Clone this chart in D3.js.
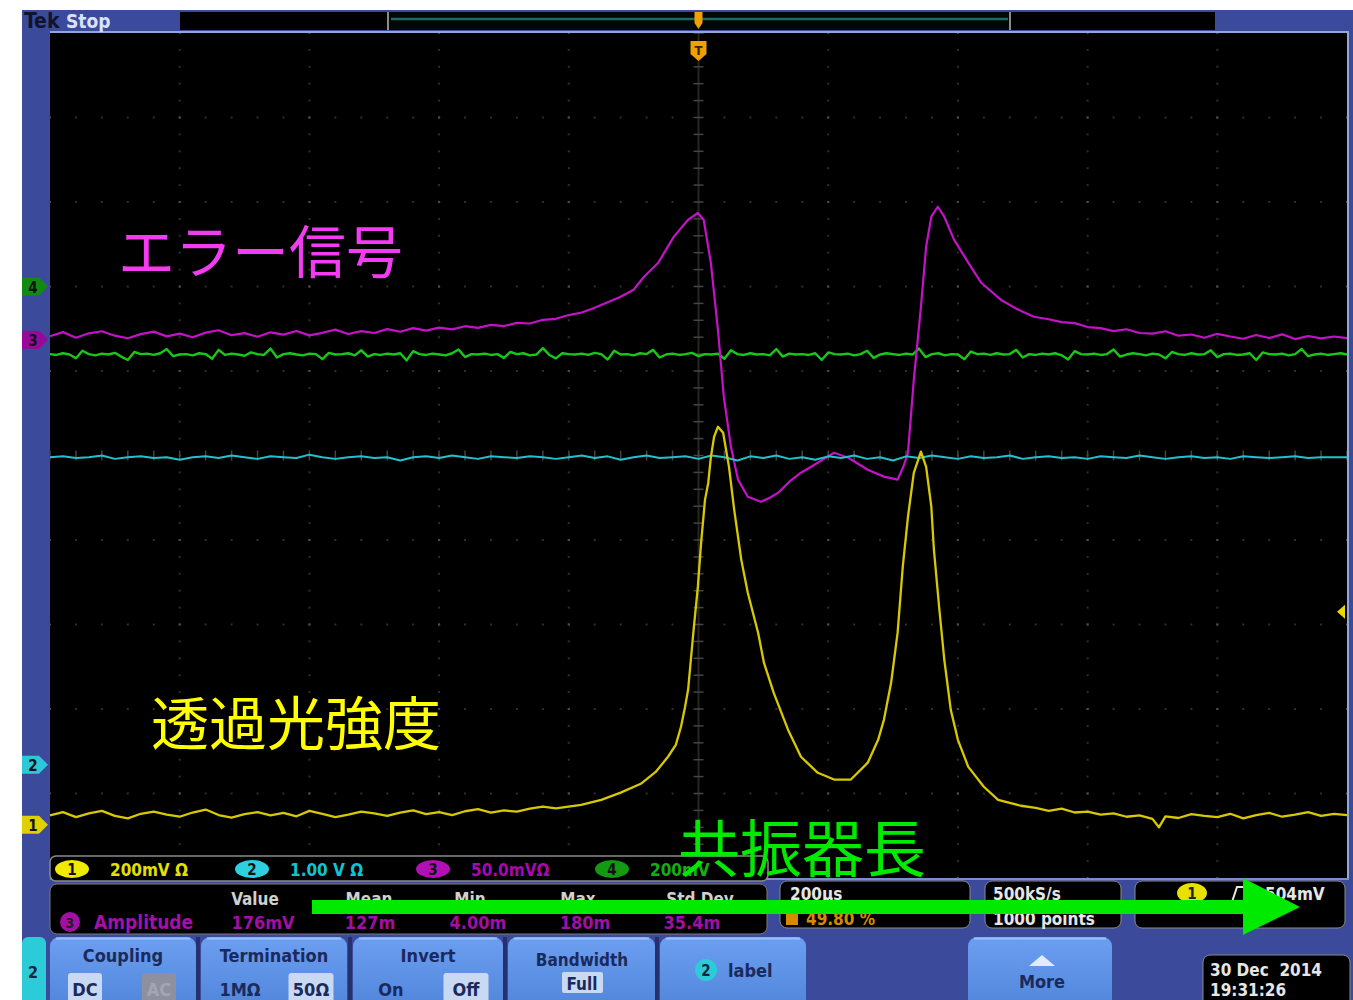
<!DOCTYPE html>
<html>
<head>
<meta charset="utf-8">
<script src="https://cdn.jsdelivr.net/npm/d3@7"></script>
<style>
  body { margin: 0; background: #fff; }
  svg { display: block; }
  .ui { font-family: "DejaVu Sans Condensed", "DejaVu Sans", sans-serif; font-weight: bold; }
  .jp { font-family: "Noto Sans CJK JP", sans-serif; }
</style>
</head>
<body>
<div id="chart"></div>
<script>
// ---- channel settings ----
const channelNames   = ['1', '2', '3', '4'];
const channelScaleMv = [200, 1000, 50, 200];      // mV per division
const channelPosDiv  = [-4.37, -3.66, 1.37, 2.0]; // ground marker, divisions from centre
const channelLabels  = ['200mV \u03a9', '1.00 V \u03a9', '50.0mV\u03a9', '200mV'];
const traceColors    = ['#d8c800', '#22c2cc', '#c412c8', '#18c818'];
const markerColors   = ['#e0d000', '#2cc8d8', '#98089a', '#128a12'];
const chipColors     = ['#f0ea00', '#2cd0e0', '#b010b4', '#129a12'];
const labelColors    = ['#e4e000', '#10c4d4', '#a808ac', '#12b012'];

const timeDomainUs = [-1000, 1000];  // 200 us/div, 10 div
const triggerLevelMv = 504;

// ---- ch1 : transmitted light (time us, mV) ----
const ch1Time = [
  -1000, -980, -960, -940, -920, -900, -880, -860, -840, -820,
  -800, -780, -760, -740, -720, -700, -680, -660, -640, -620,
  -600, -580, -560, -540, -520, -500, -480, -460, -440, -420,
  -400, -380, -360, -340, -320, -300, -280, -260, -240, -220,
  -181, -150, -120, -89, -66, -47, -35, -27, -21, -16, -8, -1, 4, 10, 15, 19, 24, 30, 38, 47,
  55, 66, 76, 92, 101, 116, 138, 158, 184, 209, 235, 261, 277, 286, 297, 307, 315, 323, 332, 343,
  351, 359, 363, 371, 379, 389, 400, 416, 440, 462, 497,
  520, 540, 560, 580, 600, 620, 640, 660, 680, 700, 710, 720, 740, 760, 780, 800, 820, 840, 860,
  880, 900, 920, 940, 960, 980, 1000
];
const ch1Mv = [
  22, 30, 18, 27, 33, 21, 15, 26, 31, 24,
  19, 29, 36, 23, 17, 25, 30, 22, 28, 20,
  33, 26, 18, 24, 31, 27, 21, 29, 34, 25,
  30, 23, 32, 37, 29, 34, 31, 38, 43, 39,
  47, 59, 76, 97, 125, 161, 189, 232, 277, 320, 454, 563, 667, 769, 809, 869, 918, 942, 928, 847,
  746, 627, 549, 454, 383, 312, 225, 161, 123, 107, 107, 147, 201, 249, 336, 454, 611, 729, 833, 883,
  847, 753, 651, 516, 391, 272, 201, 137, 90, 59, 45,
  40, 33, 38, 29, 31, 24, 27, 19, 22, 14, -6, 20, 16, 25, 21, 18, 26, 15, 23,
  28, 19, 24, 30, 21, 26, 23
];

// ---- ch3 : error signal (time us, mV) ----
const ch3Time = [
  -1000, -980, -960, -940, -920, -900, -880, -860, -840, -820,
  -800, -780, -760, -740, -720, -700, -680, -660, -640, -620,
  -600, -580, -560, -540, -520, -500, -480, -460, -440, -420,
  -400, -380, -360, -340, -320, -300, -280, -260, -240, -220,
  -200, -180, -160,
  -120, -100, -84, -62, -38, -16, -1, 8, 19, 30, 39, 50, 61, 76, 96, 110, 123, 140, 158, 184,
  209, 231, 261, 286, 307, 316, 323, 332, 343, 351, 359, 369, 379, 394, 416, 436, 466, 490, 517,
  540, 560, 580, 600, 620, 640, 660, 680, 700, 720, 740, 760, 780, 800, 820, 840, 860, 880,
  900, 920, 940, 960, 980, 1000
];
const ch3Mv = [
  2.1, 4.5, 1.2, 3.8, 5.0, 2.4, 0.9, 3.3, 4.8, 2.0,
  3.6, 1.5, 4.2, 5.6, 2.7, 3.9, 1.8, 4.4, 3.0, 5.2,
  2.6, 4.1, 6.0, 3.4, 5.1, 4.0, 6.3, 4.7, 6.9, 5.4,
  7.2, 6.1, 8.0, 7.0, 8.8, 8.1, 10.0, 9.6, 11.8, 12.4,
  14.6, 16.1, 18.9,
  25.4, 29.6, 37.3, 45.6, 61, 71, 75, 71, 45.6, 5.9, -33.7, -63.3, -82.8, -92.9, -95.9, -93.5, -90.5, -84, -78.7, -72.8,
  -66.9, -69.8, -76.9, -81, -82.8, -75, -66.9, -23.7, 19.5, 55, 72.8, 78.7, 72.8, 59.2, 45.6, 33.7, 23.7, 18.4, 13.6,
  12.1, 10.4, 9.8, 7.5, 6.9, 5.1, 6.2, 4.0, 3.6, 5.0, 2.4, 3.1, 1.2, 3.5, 1.9, 0.6, 2.8, 1.0,
  3.2, 0.4, 2.2, 0.8, 1.9, 0.9
];

// ---- ch4 : green, sampled every 10 us from -1000 us (mV) ----
const ch4StartUs = -1000, ch4StepUs = 10;
const ch4Mv = [
  -160,-162,-158,-161,-170,-152,-160,-163,-159,-161,
  -157,-166,-174,-155,-160,-159,-162,-158,-148,-165,
  -161,-160,-163,-158,-160,-171,-150,-162,-159,-161,
  -164,-156,-160,-162,-147,-168,-160,-158,-161,-163,
  -159,-160,-172,-157,-161,-160,-158,-163,-151,-166,
  -160,-162,-159,-161,-158,-175,-153,-160,-162,-159,
  -161,-163,-158,-149,-167,-160,-161,-159,-162,-160,
  -169,-155,-160,-158,-163,-161,-146,-162,-170,-158,
  -160,-161,-159,-162,-157,-160,-173,-152,-161,-160,
  -163,-158,-160,-150,-168,-161,-159,-162,-160,-157,
  -165,-160,-161,-159,-171,-151,-160,-162,-158,-161,
  -160,-163,-148,-166,-159,-161,-160,-162,-158,-174,
  -156,-160,-161,-159,-163,-160,-152,-169,-161,-158,
  -160,-162,-159,-161,-147,-167,-160,-158,-163,-160,
  -161,-172,-154,-160,-159,-162,-158,-161,-160,-150,
  -168,-160,-162,-159,-161,-158,-163,-173,-153,-160,
  -161,-159,-162,-160,-149,-166,-161,-158,-160,-163,
  -159,-161,-170,-155,-160,-162,-158,-161,-160,-151,
  -167,-160,-159,-162,-161,-158,-174,-156,-160,-161,
  -159,-163,-160,-148,-165,-161,-159,-162,-160,-158,
  -161
];

// ---- ch2 : cyan, sampled every 20 us from -1000 us (mV) ----
const ch2StartUs = -1000, ch2StepUs = 20;
const ch2Mv = [
  3640,3650,3630,3640,3660,3620,3640,3650,3630,3640,
  3610,3640,3650,3630,3660,3640,3620,3650,3640,3630,
  3670,3640,3620,3640,3650,3630,3640,3600,3640,3650,
  3630,3660,3640,3620,3650,3640,3630,3650,3640,3620,
  3640,3660,3630,3650,3610,3640,3660,3630,3640,3650,
  3620,3660,3640,3600,3650,3630,3660,3620,3640,3610,
  3650,3630,3660,3620,3640,3600,3650,3630,3660,3640,
  3620,3650,3630,3640,3660,3620,3640,3650,3630,3640,
  3620,3650,3640,3630,3660,3640,3620,3640,3650,3630,
  3640,3620,3650,3640,3630,3640,3650,3630,3640,3640,
  3640
];

// ---- screen texts ----
const measHeaders = ['Value', 'Mean', 'Min', 'Max', 'Std Dev'];
const measValues  = ['176mV', '127m', '4.00m', '180m', '35.4m'];
const annotations = [
  {text: '\u30a8\u30e9\u30fc\u4fe1\u53f7', color: '#f23cf2'},
  {text: '\u900f\u904e\u5149\u5f37\u5ea6', color: '#ffff00'},
  {text: '\u5171\u632f\u5668\u9577', color: '#00ea00'}
];

// ================= drawing =================
const W = 1353, H = 1000;
const plot = {left: 50, right: 1347, top: 33, bottom: 878};
const frameBlue = '#3b4a9b', borderBlue = '#8ea8d8';

const svg = d3.select('#chart').append('svg').attr('width', W).attr('height', H);

const x = d3.scaleLinear().domain(timeDomainUs).range([plot.left, plot.right]);
const yDiv = d3.scaleLinear().domain([-5, 5]).range([plot.bottom, plot.top]);

// frame
svg.append('rect').attr('x', 22).attr('y', 10).attr('width', W - 22).attr('height', H - 10).attr('fill', frameBlue);
svg.append('rect').attr('x', plot.left).attr('y', plot.top)
  .attr('width', plot.right - plot.left).attr('height', plot.bottom - plot.top).attr('fill', '#000');

// graticule
const grid = svg.append('g');
const minorY = d3.range(-5, 5.001, 0.2);
const minorX = d3.range(-1000, 1000.1, 40);
x.ticks(10).slice(1, -1).forEach(t => {
  if (t === 0) return;
  grid.selectAll(null).data(minorY).enter().append('rect')
    .attr('x', x(t) - 1).attr('y', d => yDiv(d) - 1).attr('width', 2).attr('height', 2)
    .attr('fill', (d, i) => i % 5 === 0 ? '#4a4a4a' : '#2e2e2e');
});
yDiv.ticks(10).slice(1, -1).forEach(v => {
  if (v === 0) return;
  grid.selectAll(null).data(minorX).enter().append('rect')
    .attr('x', d => x(d) - 1).attr('y', yDiv(v) - 1).attr('width', 2).attr('height', 2)
    .attr('fill', (d, i) => i % 5 === 0 ? '#4a4a4a' : '#2e2e2e');
});
// centre cross with tick marks
grid.append('line').attr('x1', x(0)).attr('x2', x(0)).attr('y1', plot.top).attr('y2', plot.bottom)
  .attr('stroke', '#26261e').attr('stroke-width', 2);
grid.selectAll(null).data(minorY).enter().append('line')
  .attr('x1', x(0) - 5).attr('x2', x(0) + 5).attr('y1', d => yDiv(d)).attr('y2', d => yDiv(d))
  .attr('stroke', '#444').attr('stroke-width', 1.5);
grid.selectAll(null).data(minorX).enter().append('line')
  .attr('x1', d => x(d)).attr('x2', d => x(d)).attr('y1', yDiv(0) - 5).attr('y2', yDiv(0) + 5)
  .attr('stroke', '#444').attr('stroke-width', 1.5);

// traces (straight segments between samples, like the scope's vector display)
const yCh = (ch, mv) => yDiv(mv / channelScaleMv[ch] + channelPosDiv[ch]);
const traceLine = ch => d3.line()
  .x(d => x(d[0])).y(d => yCh(ch, d[1]))
  .curve(d3.curveLinear);

const ch4Pts = ch4Mv.map((v, i) => [ch4StartUs + i * ch4StepUs, v]);
const ch2Pts = ch2Mv.map((v, i) => [ch2StartUs + i * ch2StepUs, v]);
const ch3Pts = ch3Time.map((t, i) => [t, ch3Mv[i]]);
const ch1Pts = ch1Time.map((t, i) => [t, ch1Mv[i]]);

const traces = svg.append('g').attr('fill', 'none').attr('stroke-linejoin', 'round');
traces.append('path').attr('d', traceLine(3)(ch4Pts)).attr('stroke', traceColors[3]).attr('stroke-width', 2.4);
traces.append('path').attr('d', traceLine(2)(ch3Pts)).attr('stroke', traceColors[2]).attr('stroke-width', 2.2);
traces.append('path').attr('d', traceLine(1)(ch2Pts)).attr('stroke', traceColors[1]).attr('stroke-width', 2);
traces.append('path').attr('d', traceLine(0)(ch1Pts)).attr('stroke', traceColors[0]).attr('stroke-width', 2.3);

// border lines of graticule
svg.append('line').attr('x1', plot.left).attr('x2', plot.right + 2).attr('y1', plot.top - 1).attr('y2', plot.top - 1)
  .attr('stroke', borderBlue).attr('stroke-width', 2);
svg.append('line').attr('x1', plot.right + 1).attr('x2', plot.right + 1).attr('y1', plot.top).attr('y2', plot.bottom)
  .attr('stroke', borderBlue).attr('stroke-width', 2);
svg.append('line').attr('x1', plot.left).attr('x2', plot.right + 2).attr('y1', plot.bottom + 1).attr('y2', plot.bottom + 1)
  .attr('stroke', borderBlue).attr('stroke-width', 1.5);

// top status bar
const topBar = svg.append('g').attr('class', 'ui');
topBar.append('text').attr('x', 24).attr('y', 28).attr('font-size', 21).attr('fill', '#10142a').text('Tek');
topBar.append('text').attr('x', 66).attr('y', 28).attr('font-size', 19).attr('fill', '#d8e2ff').text('Stop');
topBar.append('rect').attr('x', 180).attr('y', 12).attr('width', 207).attr('height', 18).attr('fill', '#000');
topBar.append('rect').attr('x', 387).attr('y', 12).attr('width', 623).attr('height', 18).attr('fill', '#020806');
topBar.append('rect').attr('x', 1010).attr('y', 12).attr('width', 205).attr('height', 18).attr('fill', '#000');
topBar.append('line').attr('x1', 391).attr('x2', 1008).attr('y1', 19).attr('y2', 19).attr('stroke', '#1d6a64').attr('stroke-width', 2.5);
[388, 1010].forEach(px => topBar.append('line').attr('x1', px).attr('x2', px).attr('y1', 12).attr('y2', 30)
  .attr('stroke', '#b8b8b8').attr('stroke-width', 1.5));

// trigger position markers
const trigX = x(0);
svg.append('path').attr('d', `M${trigX - 4},12 h8 v11 l-4,6 l-4,-6 z`).attr('fill', '#f0a000');
svg.append('path').attr('d', `M${trigX - 8},41 h16 v13 l-8,7 l-8,-7 z`).attr('fill', '#f0a000');
svg.append('text').attr('class', 'ui').attr('x', trigX).attr('y', 55).attr('text-anchor', 'middle')
  .attr('font-size', 13).attr('fill', '#3a2400').text('T');

// trigger level marker
svg.append('path').attr('d', `M${plot.right - 10},${yCh(0, triggerLevelMv)} l8,-7 v14 z`).attr('fill', '#e8d800');

// channel ground markers
channelNames.forEach((n, i) => {
  const cy = yDiv(channelPosDiv[i]);
  svg.append('path').attr('d', `M22,${cy - 9} h17 l9,9 l-9,9 h-17 z`).attr('fill', markerColors[i]);
  svg.append('text').attr('class', 'ui').attr('x', 33).attr('y', cy + 6).attr('text-anchor', 'middle')
    .attr('font-size', 15).attr('fill', '#111').text(n);
});

// channel readout bar
const bar = svg.append('g').attr('class', 'ui');
bar.append('rect').attr('x', 50).attr('y', 856).attr('width', 718).attr('height', 25).attr('rx', 6).attr('fill', '#000')
  .attr('stroke', '#8a8a8a').attr('stroke-width', 1.5);
const chipX = [72, 252, 433, 612];
const readX = [110, 290, 471, 650];
channelNames.forEach((n, i) => {
  bar.append('ellipse').attr('cx', chipX[i]).attr('cy', 869).attr('rx', 17).attr('ry', 9).attr('fill', chipColors[i]);
  bar.append('text').attr('x', chipX[i]).attr('y', 875).attr('text-anchor', 'middle').attr('font-size', 15).attr('fill', '#111').text(n);
  bar.append('text').attr('x', readX[i]).attr('y', 876).attr('font-size', 17).attr('fill', labelColors[i]).text(channelLabels[i]);
});

// measurement box
const meas = svg.append('g').attr('class', 'ui');
meas.append('rect').attr('x', 50).attr('y', 884).attr('width', 717).attr('height', 50).attr('rx', 7)
  .attr('fill', '#000').attr('stroke', '#7a7a7a');
const measX = [255, 369, 470, 578, 700];
measHeaders.forEach((h, i) => meas.append('text').attr('x', measX[i]).attr('y', 905).attr('text-anchor', 'middle')
  .attr('font-size', 17).attr('fill', '#d0d0d0').text(h));
meas.append('circle').attr('cx', 70).attr('cy', 922).attr('r', 10).attr('fill', '#a010a4');
meas.append('text').attr('x', 70).attr('y', 928).attr('text-anchor', 'middle').attr('font-size', 14).attr('fill', '#222').text('3');
meas.append('text').attr('x', 94).attr('y', 929).attr('font-size', 19).attr('fill', '#a410a8').text('Amplitude');
const valX = [263, 370, 478, 585, 692];
measValues.forEach((v, i) => meas.append('text').attr('x', valX[i]).attr('y', 929).attr('text-anchor', 'middle')
  .attr('font-size', 18).attr('fill', '#a010a4').text(v));

// timebase / acquisition / trigger boxes
const boxes = svg.append('g').attr('class', 'ui');
[[780, 190], [985, 136], [1135, 210]].forEach(b => boxes.append('rect')
  .attr('x', b[0]).attr('y', 881).attr('width', b[1]).attr('height', 47).attr('rx', 7)
  .attr('fill', '#000').attr('stroke', '#8a8a8a'));
boxes.append('text').attr('x', 790).attr('y', 900).attr('font-size', 17).attr('fill', '#e6e6e6').text('200\u00b5s');
boxes.append('rect').attr('x', 786).attr('y', 911).attr('width', 12).attr('height', 14).attr('fill', '#d68a00');
boxes.append('text').attr('x', 806).attr('y', 925).attr('font-size', 17).attr('fill', '#d68a00').text('49.80 %');
boxes.append('text').attr('x', 993).attr('y', 900).attr('font-size', 17).attr('fill', '#e6e6e6').text('500kS/s');
boxes.append('text').attr('x', 993).attr('y', 925).attr('font-size', 17).attr('fill', '#e6e6e6').text('1000 points');
boxes.append('ellipse').attr('cx', 1192).attr('cy', 893).attr('rx', 15).attr('ry', 10).attr('fill', '#e8e000');
boxes.append('text').attr('x', 1192).attr('y', 899).attr('text-anchor', 'middle').attr('font-size', 15).attr('fill', '#222').text('1');
boxes.append('path').attr('d', 'M1225,902 h7 l5,-15 h7').attr('fill', 'none').attr('stroke', '#e6e6e6').attr('stroke-width', 2);
boxes.append('text').attr('x', 1265).attr('y', 900).attr('font-size', 17).attr('fill', '#e6e6e6').text(triggerLevelMv + 'mV');

// bottom menu
const defs = svg.append('defs');
const grad = defs.append('linearGradient').attr('id', 'btn').attr('x1', 0).attr('x2', 0).attr('y1', 0).attr('y2', 1);
grad.append('stop').attr('offset', '0%').attr('stop-color', '#6c9ff0');
grad.append('stop').attr('offset', '100%').attr('stop-color', '#4f84da');

const menu = svg.append('g').attr('class', 'ui');
menu.append('rect').attr('x', 22).attr('y', 937).attr('width', 24).attr('height', 70).attr('rx', 6).attr('fill', '#2ccbd8');
menu.append('text').attr('x', 33).attr('y', 978).attr('text-anchor', 'middle').attr('font-size', 16).attr('fill', '#1a2040').text('2');

const buttons = [
  {x: 50, w: 146, title: 'Coupling', opts: [['DC', 85, true], ['AC', 159, 'off']]},
  {x: 201, w: 146, title: 'Termination', opts: [['1M\u03a9', 240, false], ['50\u03a9', 311, true]]},
  {x: 353, w: 150, title: 'Invert', opts: [['On', 391, false], ['Off', 466, true]]},
  {x: 508, w: 147, title: '', opts: []},
  {x: 660, w: 146, title: '', opts: []},
  {x: 968, w: 144, title: '', opts: []}
];
buttons.forEach(b => {
  menu.append('rect').attr('x', b.x).attr('y', 937).attr('width', b.w).attr('height', 75).attr('rx', 9).attr('fill', 'url(#btn)');
  menu.append('line').attr('x1', b.x + 6).attr('x2', b.x + b.w - 6).attr('y1', 938.5).attr('y2', 938.5).attr('stroke', '#9cc0ff').attr('stroke-width', 2);
  if (b.title) menu.append('text').attr('x', b.x + b.w / 2).attr('y', 962).attr('text-anchor', 'middle')
    .attr('font-size', 18).attr('fill', '#1b2a5c').text(b.title);
  b.opts.forEach(o => {
    const tw = o[0].length * 11 + 12;
    if (o[2] === true) menu.append('rect').attr('x', o[1] - tw / 2).attr('y', 973).attr('width', tw).attr('height', 30).attr('rx', 3).attr('fill', '#cad9f2');
    if (o[2] === 'off') menu.append('rect').attr('x', o[1] - tw / 2).attr('y', 973).attr('width', tw).attr('height', 30).attr('rx', 3).attr('fill', '#8e909f');
    menu.append('text').attr('x', o[1]).attr('y', 996).attr('text-anchor', 'middle').attr('font-size', 18)
      .attr('fill', o[2] === 'off' ? '#a2a6b4' : '#1b2a5c').text(o[0]);
  });
});
[198, 350, 505, 657].forEach(px => menu.append('rect').attr('x', px - 2).attr('y', 937).attr('width', 4).attr('height', 63).attr('fill', '#26306e'));
menu.append('text').attr('x', 582).attr('y', 966).attr('text-anchor', 'middle').attr('font-size', 17).attr('fill', '#1b2a5c').text('Bandwidth');
menu.append('rect').attr('x', 562).attr('y', 972).attr('width', 41).attr('height', 21).attr('rx', 2).attr('fill', '#cad9f2');
menu.append('text').attr('x', 582).attr('y', 990).attr('text-anchor', 'middle').attr('font-size', 17).attr('fill', '#1b2a5c').text('Full');
menu.append('circle').attr('cx', 706).attr('cy', 970).attr('r', 11).attr('fill', '#2ccbd8');
menu.append('text').attr('x', 706).attr('y', 976).attr('text-anchor', 'middle').attr('font-size', 15).attr('fill', '#1a2040').text('2');
menu.append('text').attr('x', 728).attr('y', 977).attr('font-size', 18).attr('fill', '#1b2a5c').text('label');
menu.append('path').attr('d', 'M1029,966 l13,-11 l13,11 z').attr('fill', '#e2eaff');
menu.append('text').attr('x', 1042).attr('y', 988).attr('text-anchor', 'middle').attr('font-size', 18).attr('fill', '#1b2a5c').text('More');
menu.append('rect').attr('x', 1203).attr('y', 955).attr('width', 147).attr('height', 60).attr('rx', 7).attr('fill', '#000').attr('stroke', '#8a8a8a');
menu.append('text').attr('x', 1210).attr('y', 976).attr('font-size', 17).attr('fill', '#e6e6e6').attr('xml:space', 'preserve').text('30 Dec  2014');
menu.append('text').attr('x', 1210).attr('y', 996).attr('font-size', 17).attr('fill', '#e6e6e6').text('19:31:26');

// annotations
const ann = svg.append('g').attr('class', 'jp');
ann.append('text').attr('x', 118).attr('y', 273).attr('font-size', 57).attr('fill', annotations[0].color).text(annotations[0].text);
ann.append('text').attr('x', 151).attr('y', 745).attr('font-size', 58).attr('fill', annotations[1].color).text(annotations[1].text);
ann.append('text').attr('x', 678).attr('y', 872).attr('font-size', 62).attr('fill', annotations[2].color).text(annotations[2].text);

// arrow along cavity length
ann.append('rect').attr('x', 312).attr('y', 900).attr('width', 934).attr('height', 14).attr('fill', '#00ea00');
ann.append('path').attr('d', 'M1243,878 L1300,907 L1243,935 Z').attr('fill', '#00ea00');
</script>
</body>
</html>
